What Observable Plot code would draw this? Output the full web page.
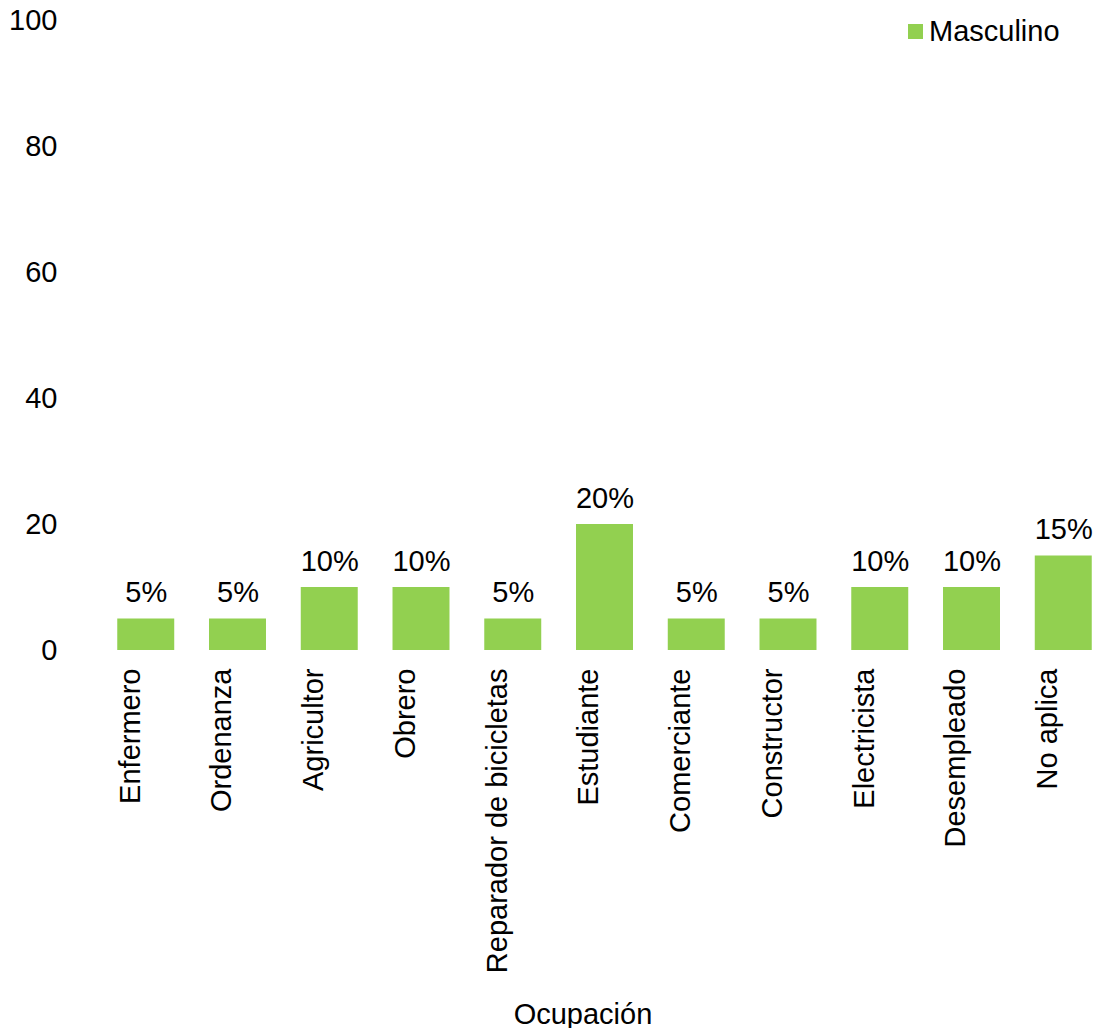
<!DOCTYPE html>
<html>
<head>
<meta charset="utf-8">
<script src="https://cdn.jsdelivr.net/npm/d3@7"></script>
<script src="https://cdn.jsdelivr.net/npm/@observablehq/plot@0.6"></script>
<style>
  html, body { margin: 0; padding: 0; background: #fff; }
  body { width: 1101px; height: 1028px; position: relative; overflow: hidden;
         font-family: "Liberation Sans", Arial, sans-serif; }
  #legend { position: absolute; top: 15px; left: 908px; display: flex; align-items: center;
            font-size: 29px; color: #000; white-space: nowrap; }
  #legend .swatch { width: 15px; height: 15px; background: #92D050; margin-right: 6px; }
</style>
</head>
<body>
<div id="legend"><span class="swatch"></span><span>Masculino</span></div>
<div id="chart"></div>
<script>
// Ocupación — distribución del grupo masculino (%)
const categories = ["Enfermero", "Ordenanza", "Agricultor", "Obrero", "Reparador de bicicletas",
  "Estudiante", "Comerciante", "Constructor", "Electricista", "Desempleado", "No aplica"];
const values = [5, 5, 10, 10, 5, 20, 5, 5, 10, 10, 15];
const yTicks = [0, 20, 40, 60, 80, 100];
const seriesName = "Masculino";
const axisTitle = "Ocupación";
const barColor = "#92D050";

const data = categories.map((c, i) => ({ocupacion: c, valor: values[i], serie: seriesName}));

const chart = Plot.plot({
  width: 1101,
  height: 1028,
  marginTop: 20,
  marginBottom: 378,
  marginLeft: 109,
  marginRight: 1,
  style: {fontFamily: "'Liberation Sans', Arial, sans-serif", fontSize: "29px", color: "#000", background: "#fff"},
  x: {domain: categories, paddingInner: 0.379, paddingOuter: 0.09, round: false},
  y: {domain: [0, 100]},
  marks: [
    Plot.barY(data, {x: "ocupacion", y: "valor", fill: barColor}),
    Plot.text(data, {x: "ocupacion", y: "valor", text: d => `${d.valor}%`, lineAnchor: "bottom",
      dy: -17, fontSize: 29, fill: "#000"}),
    Plot.axisY({ticks: yTicks, tickSize: 0, tickPadding: 52, fontSize: 29, label: null, fill: "#000"}),
    Plot.axisX({tickRotate: -90, tickSize: 0, tickPadding: 18, fontSize: 29, label: null, dx: -16, fill: "#000"}),
    Plot.text([axisTitle], {frameAnchor: "bottom", lineAnchor: "bottom", dy: 373, dx: -22, fontSize: 29, fill: "#000"})
  ]
});
document.getElementById("chart").appendChild(chart);
</script>
</body>
</html>
